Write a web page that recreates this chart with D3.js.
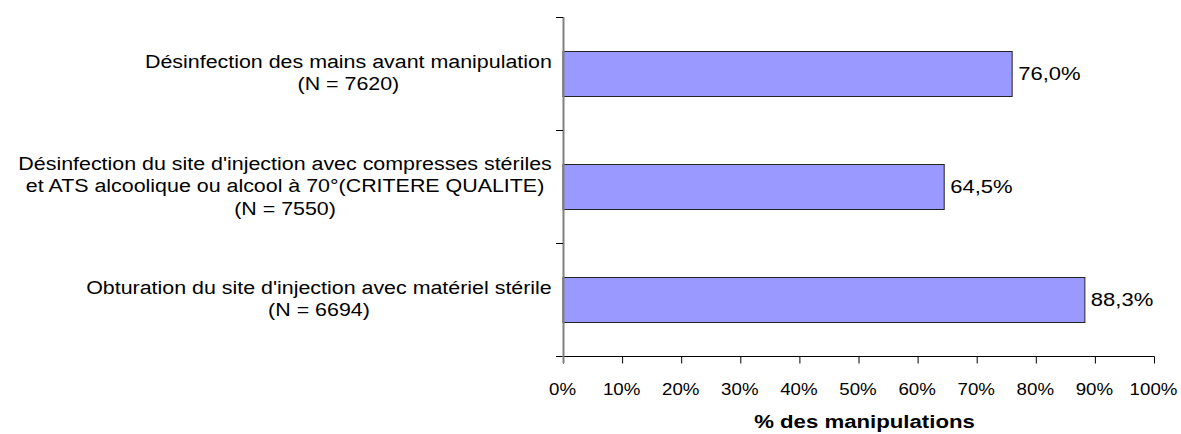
<!DOCTYPE html>
<html>
<head>
<meta charset="utf-8">
<script src="https://cdn.jsdelivr.net/npm/d3@7"></script>
<style>
  body { margin: 0; background: #fff; }
  text { font-family: Arial, "Liberation Sans", sans-serif; fill: #000; }
</style>
</head>
<body>
<div id="chart"></div>
<script>
const categories = [
  ['Désinfection des mains avant manipulation', '(N = 7620)'],
  ['Désinfection du site d\'injection avec compresses stériles', 'et ATS alcoolique ou alcool à 70°(CRITERE QUALITE)', '(N = 7550)'],
  ['Obturation du site d\'injection avec matériel stérile', '(N = 6694)']
]
const values = [76.0, 64.5, 88.3]
const ticks = [0, 10, 20, 30, 40, 50, 60, 70, 80, 90, 100]
const axisTitle = '% des manipulations'

const W = 1181, H = 434
const plot = { left: 563, right: 1154, top: 17, bottom: 356 }
// the reference text is drawn a little wider than it is tall
const stretch = 1.19

const svg = d3.select('#chart').append('svg')
  .attr('width', W)
  .attr('height', H)

const x = d3.scaleLinear().domain([0, 100]).range([plot.left, plot.right])
const y = d3.scaleBand().domain(d3.range(categories.length))
  .range([plot.top, plot.bottom]).paddingInner(0.6).paddingOuter(0.3)
const yb = d3.scaleBand().domain(d3.range(categories.length)).range([plot.top, plot.bottom])

/* bars */
svg.append('g').selectAll('rect').data(values).enter().append('rect')
  .attr('x', x(0))
  .attr('y', (d, i) => Math.round(y(i)) + 0.5)
  .attr('width', d => x(d) - x(0))
  .attr('height', Math.round(y.bandwidth()))
  .attr('fill', '#9999ff')
  .attr('stroke', '#222')
  .attr('stroke-width', 1)

/* value labels */
svg.append('g').selectAll('text').data(values).enter().append('text')
  .attr('transform', (d, i) => `translate(${x(d) + 6},${y(i) + y.bandwidth() / 2 + 6.5}) scale(${stretch},1)`)
  .style('font-size', '18.5px')
  .text(d => d.toFixed(1).replace('.', ',') + '%')

/* x axis */
const xAxis = svg.append('g').attr('transform', `translate(0,${plot.bottom + 0.5})`)
  .call(d3.axisBottom(x).tickValues(ticks).tickSize(7).tickFormat(d => d + '%'))
xAxis.select('.domain').remove()
xAxis.append('line').attr('x1', plot.left - 7).attr('x2', plot.right + 0.5).attr('stroke', '#000')
xAxis.selectAll('.tick line').attr('stroke', '#000')
xAxis.selectAll('.tick text')
  .attr('y', 0).attr('dy', 0)
  .attr('transform', 'translate(-1,38) scale(1.1,1)')
  .style('font-size', '17px')
  .style('font-family', 'Arial, "Liberation Sans", sans-serif')
  .attr('fill', '#000')

/* y axis */
const yAxis = svg.append('g')
yAxis.append('line')
  .attr('x1', plot.left + 0.5).attr('x2', plot.left + 0.5)
  .attr('y1', plot.top).attr('y2', plot.bottom + 7)
  .attr('stroke', '#808080').attr('stroke-width', 2)
yAxis.selectAll('.tk').data(d3.range(categories.length)).enter().append('line')
  .attr('x1', plot.left - 7).attr('x2', plot.left)
  .attr('y1', i => Math.round(yb(i)) + 0.5).attr('y2', i => Math.round(yb(i)) + 0.5)
  .attr('stroke', '#000')

/* category labels: block right-aligned, lines centered */
const lineH = 22.5
categories.forEach((lines, i) => {
  const g = svg.append('g')
  const texts = lines.map(l => g.append('text')
    .style('font-size', '18px')
    .attr('text-anchor', 'middle')
    .text(l))
  const maxW = d3.max(texts, t => t.node().getComputedTextLength()) * stretch
  const cx = 552 - maxW / 2
  const cy = y(i) + y.bandwidth() / 2
  const y0 = cy - (lines.length - 1) * lineH / 2 + 5.5
  texts.forEach((t, j) => t.attr('transform', `translate(${cx},${y0 + j * lineH}) scale(${stretch},1)`))
})

/* axis title */
svg.append('text')
  .attr('transform', `translate(${(plot.left + plot.right) / 2 + 6},428) scale(1.2,1)`)
  .attr('text-anchor', 'middle')
  .style('font-size', '18.5px')
  .style('font-weight', 'bold')
  .text(axisTitle)
</script>
</body>
</html>
